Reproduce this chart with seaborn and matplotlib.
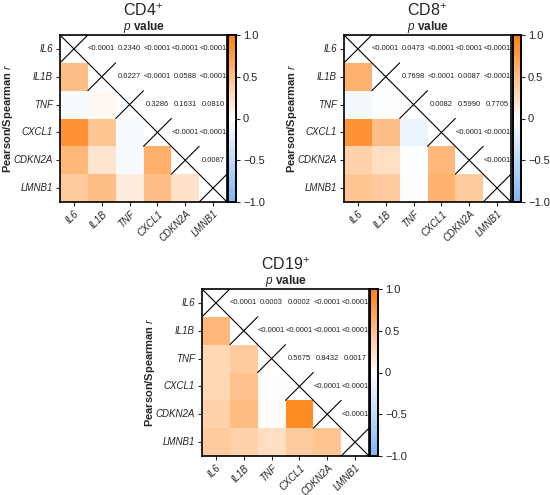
import numpy as np
import pandas as pd
import matplotlib
matplotlib.use("Agg")
import matplotlib.pyplot as plt
import seaborn as sns
from matplotlib.colors import LinearSegmentedColormap

genes = ["IL6", "IL1B", "TNF", "CXCL1", "CDKN2A", "LMNB1"]

# Lower triangle correlation values (row i, columns 0..i-1), rows IL1B..LMNB1
cd4_r = [
    [0.50],
    [-0.05, 0.05],
    [0.85, 0.45, -0.05],
    [0.55, 0.20, -0.07, 0.62],
    [0.40, 0.50, 0.15, 0.50, 0.22],
]
cd8_r = [
    [0.60],
    [-0.08, -0.02],
    [0.85, 0.50, -0.15],
    [0.35, 0.25, -0.02, 0.55],
    [0.45, 0.40, 0.00, 0.60, 0.40],
]
cd19_r = [
    [0.55],
    [0.30, 0.40],
    [0.30, 0.48, -0.02],
    [0.35, 0.52, 0.02, 0.90],
    [0.40, 0.35, 0.25, 0.40, 0.45],
]

# Upper triangle p values (row i, columns i+1..5), rows IL6..CDKN2A
cd4_p = [
    ["<0.0001", "0.2340", "<0.0001", "<0.0001", "<0.0001"],
    ["0.6227", "<0.0001", "0.0588", "<0.0001"],
    ["0.3286", "0.1631", "0.0810"],
    ["<0.0001", "<0.0001"],
    ["0.0087"],
]
cd8_p = [
    ["<0.0001", "0.0473", "<0.0001", "<0.0001", "<0.0001"],
    ["0.7698", "<0.0001", "0.0087", "<0.0001"],
    ["0.0082", "0.5990", "0.7705"],
    ["<0.0001", "<0.0001"],
    ["<0.0001"],
]
cd19_p = [
    ["<0.0001", "0.0003", "0.0002", "<0.0001", "<0.0001"],
    ["<0.0001", "<0.0001", "<0.0001", "<0.0001"],
    ["0.5675", "0.8432", "0.0017"],
    ["<0.0001", "<0.0001"],
    ["<0.0001"],
]

titles = ["CD4", "CD8", "CD19"]

sns.set_theme(style="ticks")
plt.rcParams["font.family"] = ["Liberation Sans", "DejaVu Sans"]
plt.rcParams["mathtext.fontset"] = "custom"
plt.rcParams["mathtext.rm"] = "Liberation Sans"
plt.rcParams["mathtext.it"] = "Liberation Sans:italic"
plt.rcParams["mathtext.bf"] = "Liberation Sans:bold"

cmap = LinearSegmentedColormap.from_list("bwo", ["#7fb5f5", "#ffffff", "#ff7f0e"])

W, H = 550, 495
fig = plt.figure(figsize=(W / 100, H / 100), dpi=100)

# pixel layouts: (ax_left, ax_top, cbar_left)
layouts = [(60, 35, 228), (344, 35, 513), (202, 289, 370)]
AX_W, AX_H, CB_W = 167, 167, 8

n = len(genes)
for (rvals, pvals, title, (axl, axt, cbl)) in zip(
        [cd4_r, cd8_r, cd19_r], [cd4_p, cd8_p, cd19_p], titles, layouts):
    mat = np.full((n, n), np.nan)
    for i, row in enumerate(rvals, start=1):
        for j, v in enumerate(row):
            mat[i, j] = v
    df = pd.DataFrame(mat, index=genes, columns=genes)

    ax = fig.add_axes([axl / W, 1 - (axt + AX_H) / H, AX_W / W, AX_H / H])
    cax = fig.add_axes([cbl / W, 1 - (axt + AX_H) / H, CB_W / W, AX_H / H])

    sns.heatmap(df, mask=np.isnan(mat), cmap=cmap, vmin=-1, vmax=1,
                ax=ax, cbar_ax=cax, square=False)

    for i, row in enumerate(pvals):
        for k, txt in enumerate(row):
            j = i + 1 + k
            ax.text(j + 0.5, i + 0.5, txt, ha="center", va="center",
                    fontsize=5.5, color="#222222")

    # diagonal crosses
    ax.plot([0, n], [0, n], color="black", lw=0.8)
    for i in range(n):
        ax.plot([i, i + 1], [i + 1, i], color="black", lw=0.8)

    ax.set_xlim(0, n)
    ax.set_ylim(n, 0)
    for s in ax.spines.values():
        s.set_visible(True)
        s.set_color("black")
        s.set_linewidth(1.2)

    ax.set_xticks(np.arange(n) + 0.5)
    ax.set_yticks(np.arange(n) + 0.5)
    ax.set_xticklabels(genes, rotation=45, ha="right", rotation_mode="anchor",
                       fontstyle="italic", fontsize=7, color="#262626")
    ax.set_yticklabels(genes, rotation=0, fontstyle="italic", fontsize=7,
                       color="#262626")
    ax.tick_params(axis="both", length=3, width=0.8, color="#262626", pad=2)
    ax.set_xlabel("")
    ax.set_ylabel(r"Pearson/Spearman $\mathit{r}$", fontsize=8,
                  fontweight="bold", va="center")
    ax.yaxis.set_label_coords(-52 / AX_W, 0.5)

    cax.set_yticks([-1, -0.5, 0, 0.5, 1])
    cax.set_yticklabels(["\u22121.0", "\u22120.5", "0", "0.5", "1.0"])
    cax.tick_params(labelsize=8, length=3, width=0.8, pad=2)
    for s in cax.spines.values():
        s.set_visible(True)
        s.set_color("black")
        s.set_linewidth(1.2)

    cx = (axl + AX_W / 2) / W
    fig.text(cx, 1 - (axt - 24) / H, title + r"$^{+}$", ha="center",
             va="center", fontsize=11.5)
    fig.text(cx, 1 - (axt - 8) / H, r"$\mathit{p}$ value", ha="center",
             va="center", fontsize=8.5, fontweight="bold")

fig.savefig("out.png", dpi=100)
